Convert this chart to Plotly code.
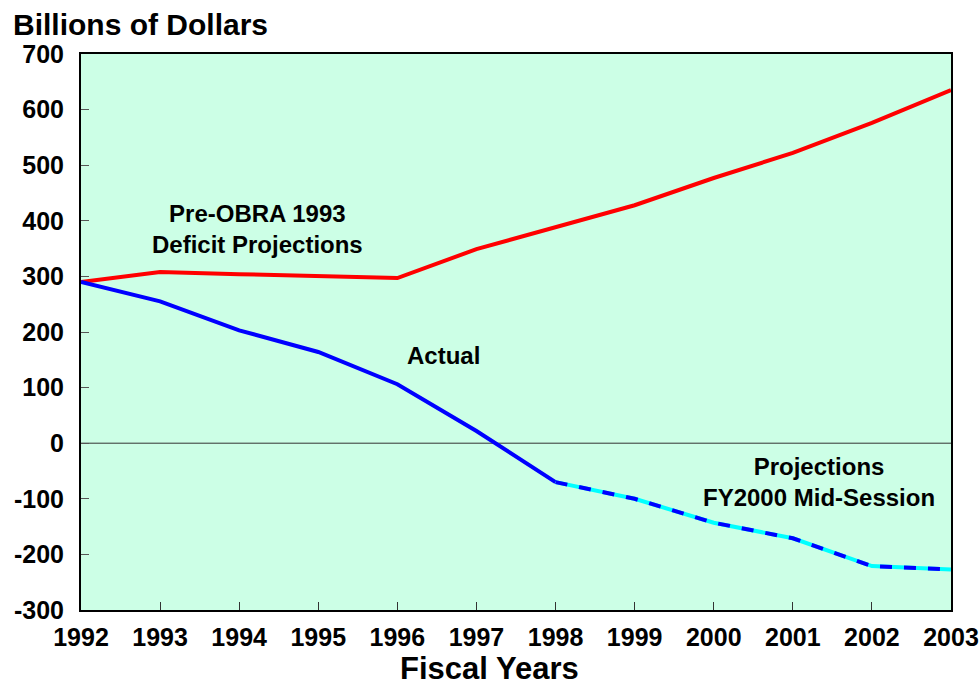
import plotly.graph_objects as go

years = [1992, 1993, 1994, 1995, 1996, 1997, 1998, 1999, 2000, 2001, 2002, 2003]
pre_obra = [290, 308, 304, 300, 297, 349, 388, 428, 477, 522, 576, 635]
actual_years = [1992, 1993, 1994, 1995, 1996, 1997, 1998]
actual = [290, 255, 203, 164, 106, 22, -70]
proj_years = [1998, 1999, 2000, 2001, 2002, 2003]
projections = [-70, -100, -143, -171, -221, -227]
y_ticks = [-300, -200, -100, 0, 100, 200, 300, 400, 500, 600, 700]

font = "Liberation Sans, Arial, sans-serif"

fig = go.Figure()
fig.add_trace(go.Scatter(x=years, y=pre_obra, mode="lines",
                         line=dict(color="#FF0000", width=4), showlegend=False))
fig.add_trace(go.Scatter(x=actual_years, y=actual, mode="lines",
                         line=dict(color="#0000FF", width=4), showlegend=False))
fig.add_trace(go.Scatter(x=proj_years, y=projections, mode="lines",
                         line=dict(color="#00FFFF", width=4), showlegend=False))
fig.add_trace(go.Scatter(x=proj_years, y=projections, mode="lines",
                         line=dict(color="#0000FF", width=4, dash="dash"), showlegend=False))

fig.add_shape(type="line", xref="paper", x0=0, x1=1, yref="y", y0=0, y1=0,
              line=dict(color="#333333", width=1), layer="below")

ann_font = dict(family=font, size=24, color="black")
fig.add_annotation(x=1994.23, y=385, text="<b>Pre-OBRA 1993<br>Deficit Projections</b>",
                   showarrow=False, font=ann_font)
fig.add_annotation(x=1996.58, y=157, text="<b>Actual</b>",
                   showarrow=False, font=ann_font)
fig.add_annotation(x=2001.33, y=-69, text="<b>Projections<br>FY2000 Mid-Session</b>",
                   showarrow=False, font=ann_font)
fig.add_annotation(xref="paper", yref="paper", x=-0.0805, y=1.086, xanchor="left", yanchor="top",
                   text="<b>Billions of Dollars</b>", showarrow=False,
                   font=dict(family=font, size=30, color="black"))
fig.add_annotation(xref="paper", yref="paper", x=0.469, y=-0.105, xanchor="center", yanchor="middle",
                   text="<b>Fiscal Years</b>", showarrow=False,
                   font=dict(family=font, size=31, color="black"))

fig.update_layout(
    width=979, height=683,
    margin=dict(l=81, r=28, t=54, b=73),
    paper_bgcolor="white",
    plot_bgcolor="#CCFFE6",
    font=dict(family=font, color="black"),
)
fig.update_xaxes(
    range=[1992, 2003], tickvals=years, ticktext=[f"<b>{y}</b>" for y in years],
    tickfont=dict(family=font, size=25, color="black"),
    ticks="inside", ticklen=8, tickcolor="#333333", tickwidth=1,
    ticklabelstandoff=4,
    showgrid=False, zeroline=False, automargin=False,
    showline=True, linecolor="black", linewidth=2, mirror=True,
)
fig.update_yaxes(
    range=[-300, 700], tickvals=y_ticks,
    ticktext=[f"<b>{v}</b>" for v in y_ticks],
    tickfont=dict(family=font, size=25, color="black"),
    ticks="inside", ticklen=8, tickcolor="#555555", tickwidth=1,
    ticklabelstandoff=10,
    showgrid=False, zeroline=False, automargin=False,
    showline=True, linecolor="black", linewidth=2, mirror=True,
)
fig.write_html(
    "out.html",
    config={"displayModeBar": False},
    post_script="document.body.style.margin='0';document.body.style.overflow='hidden';"
                "document.documentElement.style.overflow='hidden';",
)
